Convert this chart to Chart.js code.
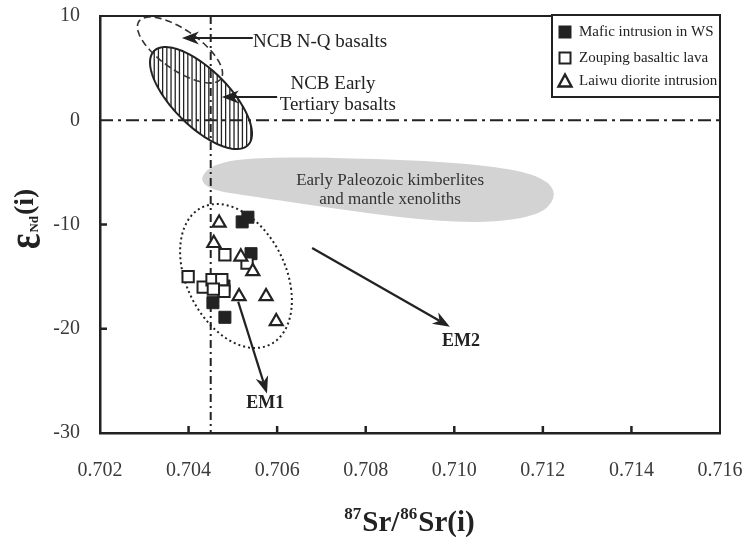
<!DOCTYPE html>
<html>
<head>
<meta charset="utf-8">
<script src="https://cdn.jsdelivr.net/npm/chart.js@4.4.0/dist/chart.umd.min.js"></script>
<style>
    html, body { margin: 0; padding: 0; background: #fff; }
    #wrap { width: 744px; height: 537px; }
</style>
</head>
<body>
<div id="wrap"><canvas id="srNdChart" width="744" height="537"></canvas></div>
<script>
// Sr-Nd isotope plot
const xTicks = [0.702, 0.704, 0.706, 0.708, 0.710, 0.712, 0.714, 0.716];
const yTicks = [10, 0, -10, -20, -30];

// Mafic intrusion in WS
const maficX = [0.70521, 0.70534, 0.70541, 0.70462, 0.70480, 0.70455, 0.70482];
const maficY = [-9.75, -9.3, -12.8, -15.3, -15.9, -17.5, -18.9];
// Zouping basaltic lava
const zoupingX = [0.70399, 0.70433, 0.70453, 0.70475, 0.70480, 0.70482, 0.70532, 0.70456];
const zoupingY = [-15.0, -16.0, -15.3, -15.3, -16.4, -12.9, -13.7, -16.2];
// Laiwu diorite intrusion
const laiwuX = [0.70469, 0.70457, 0.70518, 0.70545, 0.70514, 0.70575, 0.70598];
const laiwuY = [-9.85, -11.8, -13.1, -14.5, -16.9, -16.9, -19.3];

// reference lines
const refSr = 0.7045;
const refNd = 0;

// fields (ellipses as centre + two conjugate half axes, data units)
const nqCenter = [0.703806, 6.74];
const nqAxisU = [0.000925, -2.75];
const nqAxisV = [-0.000259, -1.57];
const tertCenter = [0.704281, 2.13];
const tertAxisU = [0.001061, -4.51];
const tertAxisV = [-0.000447, -1.90];
const sampleCenter = [0.705071, -14.94];
const sampleAxisU = [0.001242, -1.15];
const sampleAxisV = [0.000226, -6.81];

// kimberlite / xenolith field outline
const kimberliteX = [0.704235, 0.704597, 0.705613, 0.707645, 0.709903, 0.711484, 0.712161,
                     0.712297, 0.711935, 0.710806, 0.709226, 0.707193, 0.705387, 0.704484];
const kimberliteY = [-5.54, -4.10, -3.52, -3.62, -4.00, -4.77, -5.92,
                     -7.46, -9.09, -9.86, -9.57, -8.42, -7.27, -6.69];

// arrows [x0, y0, x1, y1]
const arrowNQ = [0.70545, 7.89, 0.70385, 7.89];
const arrowTert = [0.70600, 2.23, 0.70475, 2.23];
const arrowEM1 = [0.70512, -17.4, 0.70577, -26.2];
const arrowEM2 = [0.70679, -12.25, 0.70990, -19.8];

// annotation texts [text, x, y]
const notes = [
    ['NCB N-Q basalts', 0.705455, 7.51, 'left', '19px'],
    ['NCB Early', 0.70726, 3.48, 'center', '19px'],
    ['Tertiary basalts', 0.70737, 1.46, 'center', '19px'],
    ['Early Paleozoic kimberlites', 0.70855, -5.83, 'center', '17px'],
    ['and mantle xenoliths', 0.70855, -7.65, 'center', '17px'],
    ['EM1', 0.70573, -27.2, 'center', 'bold 18px'],
    ['EM2', 0.71015, -21.2, 'center', 'bold 18px']
];

const seriesNames = ['Mafic intrusion in WS', 'Zouping basaltic lava', 'Laiwu diorite intrusion'];

const SERIF = '"Liberation Serif", "Times New Roman", serif';
const INK = '#222';

function toPoints(xs, ys) {
    return xs.map((v, i) => ({ x: v, y: ys[i] }));
}

function ellipsePath(ctx, xs, ys, c, u, v) {
    const cx = xs.getPixelForValue(c[0]), cy = ys.getPixelForValue(c[1]);
    const ux = xs.getPixelForValue(c[0] + u[0]) - cx, uy = ys.getPixelForValue(c[1] + u[1]) - cy;
    const vx = xs.getPixelForValue(c[0] + v[0]) - cx, vy = ys.getPixelForValue(c[1] + v[1]) - cy;
    ctx.beginPath();
    for (let i = 0; i <= 120; i++) {
        const t = i / 120 * Math.PI * 2;
        const px = cx + ux * Math.cos(t) + vx * Math.sin(t);
        const py = cy + uy * Math.cos(t) + vy * Math.sin(t);
        if (i === 0) ctx.moveTo(px, py); else ctx.lineTo(px, py);
    }
    ctx.closePath();
    return { left: cx - Math.hypot(ux, vx), right: cx + Math.hypot(ux, vx),
             top: cy - Math.hypot(uy, vy), bottom: cy + Math.hypot(uy, vy) };
}

function drawArrow(ctx, xs, ys, a) {
    const x0 = xs.getPixelForValue(a[0]), y0 = ys.getPixelForValue(a[1]);
    const x1 = xs.getPixelForValue(a[2]), y1 = ys.getPixelForValue(a[3]);
    const ang = Math.atan2(y1 - y0, x1 - x0);
    const c = Math.cos(ang), s = Math.sin(ang);
    const L = 17, W = 6.5, notch = 12;
    ctx.setLineDash([]);
    ctx.lineWidth = 2.2;
    ctx.strokeStyle = INK;
    ctx.beginPath();
    ctx.moveTo(x0, y0);
    ctx.lineTo(x1 - c * notch, y1 - s * notch);
    ctx.stroke();
    ctx.fillStyle = INK;
    ctx.beginPath();
    ctx.moveTo(x1, y1);
    ctx.lineTo(x1 - c * L - s * W, y1 - s * L + c * W);
    ctx.lineTo(x1 - c * notch, y1 - s * notch);
    ctx.lineTo(x1 - c * L + s * W, y1 - s * L - c * W);
    ctx.closePath();
    ctx.fill();
}

const fieldsPlugin = {
    id: 'fields',
    beforeDatasetsDraw(chart) {
        const { ctx, chartArea: a, scales: { x, y } } = chart;
        ctx.save();
        ctx.beginPath();
        ctx.rect(a.left, a.top, a.right - a.left, a.bottom - a.top);
        ctx.clip();

        // kimberlite field: smooth closed curve through outline points
        const pts = kimberliteX.map((v, i) => [x.getPixelForValue(v), y.getPixelForValue(kimberliteY[i])]);
        const n = pts.length;
        const mid = (p, q) => [(p[0] + q[0]) / 2, (p[1] + q[1]) / 2];
        ctx.beginPath();
        let m = mid(pts[n - 1], pts[0]);
        ctx.moveTo(m[0], m[1]);
        for (let i = 0; i < n; i++) {
            const q = mid(pts[i], pts[(i + 1) % n]);
            ctx.quadraticCurveTo(pts[i][0], pts[i][1], q[0], q[1]);
        }
        ctx.closePath();
        ctx.fillStyle = '#d3d3d3';
        ctx.fill();

        // hatched field
        const box = ellipsePath(ctx, x, y, tertCenter, tertAxisU, tertAxisV);
        ctx.save();
        ctx.clip();
        ctx.strokeStyle = INK;
        ctx.lineWidth = 1.3;
        ctx.beginPath();
        for (let hx = box.left; hx <= box.right; hx += 4.2) {
            ctx.moveTo(hx, box.top);
            ctx.lineTo(hx, box.bottom);
        }
        ctx.stroke();
        ctx.restore();
        ellipsePath(ctx, x, y, tertCenter, tertAxisU, tertAxisV);
        ctx.lineWidth = 2;
        ctx.strokeStyle = INK;
        ctx.stroke();

        // dashed field
        ellipsePath(ctx, x, y, nqCenter, nqAxisU, nqAxisV);
        ctx.setLineDash([7, 4]);
        ctx.lineWidth = 1.6;
        ctx.strokeStyle = '#333';
        ctx.stroke();

        // reference lines
        ctx.strokeStyle = INK;
        ctx.lineWidth = 2;
        ctx.setLineDash([13, 5, 3, 5]);
        ctx.beginPath();
        ctx.moveTo(a.left, y.getPixelForValue(refNd));
        ctx.lineTo(a.right, y.getPixelForValue(refNd));
        ctx.stroke();
        ctx.setLineDash([8, 4, 2, 4]);
        ctx.beginPath();
        ctx.moveTo(x.getPixelForValue(refSr), a.top);
        ctx.lineTo(x.getPixelForValue(refSr), a.bottom);
        ctx.stroke();

        // dotted sample field
        ellipsePath(ctx, x, y, sampleCenter, sampleAxisU, sampleAxisV);
        ctx.setLineDash([2, 3]);
        ctx.lineWidth = 2;
        ctx.stroke();

        [arrowNQ, arrowTert, arrowEM1, arrowEM2].forEach(ar => drawArrow(ctx, x, y, ar));

        ctx.fillStyle = INK;
        ctx.textBaseline = 'middle';
        notes.forEach(([t, nx, ny, align, size]) => {
            ctx.font = size + ' ' + SERIF;
            ctx.textAlign = align;
            ctx.fillStyle = t.includes('kimberlites') || t.includes('xenoliths') ? '#333' : INK;
            ctx.fillText(t, x.getPixelForValue(nx), y.getPixelForValue(ny));
        });
        ctx.restore();
    },
    afterDraw(chart) {
        const { ctx, chartArea: a, scales: { x, y } } = chart;
        ctx.save();
        // frame top / right
        ctx.strokeStyle = INK;
        ctx.lineWidth = 2;
        ctx.beginPath();
        ctx.moveTo(a.left, a.top);
        ctx.lineTo(a.right, a.top);
        ctx.lineTo(a.right, a.bottom);
        ctx.stroke();
        // inward ticks
        ctx.lineWidth = 2.5;
        ctx.beginPath();
        xTicks.slice(1, -1).forEach(v => {
            const px = x.getPixelForValue(v);
            ctx.moveTo(px, a.bottom);
            ctx.lineTo(px, a.bottom - 7);
        });
        [-10, -20].forEach(v => {
            const py = y.getPixelForValue(v);
            ctx.moveTo(a.left, py);
            ctx.lineTo(a.left + 7, py);
        });
        ctx.stroke();

        // legend
        const lw = 168, lh = 82;
        const lx = a.right - lw, ly = a.top - 1;
        ctx.fillStyle = '#fff';
        ctx.fillRect(lx, ly, lw, lh);
        ctx.lineWidth = 2;
        ctx.strokeRect(lx, ly, lw, lh);
        const rows = [ly + 17, ly + 43, ly + 66];
        const mx = lx + 13;
        ctx.fillStyle = INK;
        ctx.fillRect(mx - 6.5, rows[0] - 6.5, 13, 13);
        ctx.lineWidth = 2;
        ctx.strokeRect(mx - 5.5, rows[1] - 5.5, 11, 11);
        ctx.lineWidth = 2.4;
        ctx.beginPath();
        ctx.moveTo(mx, rows[2] - 6.5);
        ctx.lineTo(mx + 6.5, rows[2] + 5.5);
        ctx.lineTo(mx - 6.5, rows[2] + 5.5);
        ctx.closePath();
        ctx.stroke();
        ctx.font = '15px ' + SERIF;
        ctx.textAlign = 'left';
        ctx.textBaseline = 'middle';
        seriesNames.forEach((t, i) => ctx.fillText(t, lx + 27, rows[i]));

        // x axis title: 87Sr/86Sr(i)
        const big = 'bold 29px ' + SERIF, sup = 'bold 17px ' + SERIF;
        const parts = [['87', sup, -12], ['Sr/', big, 0], ['86', sup, -12], ['Sr(i)', big, 0]];
        let total = 0;
        parts.forEach(p => { ctx.font = p[1]; total += ctx.measureText(p[0]).width + 1; });
        let tx = (a.left + a.right) / 2 - total / 2;
        ctx.textBaseline = 'alphabetic';
        parts.forEach(p => {
            ctx.font = p[1];
            ctx.fillText(p[0], tx, 531 + p[2]);
            tx += ctx.measureText(p[0]).width + 1;
        });

        // y axis title: εNd(i)
        ctx.translate(40, 249);
        ctx.rotate(-Math.PI / 2);
        ctx.font = 'bold 36px ' + SERIF;
        ctx.save();
        ctx.scale(1, 1.35);
        ctx.fillText('ε', 0, 0);
        ctx.restore();
        let ty = ctx.measureText('ε').width + 1;
        ctx.font = 'bold 13px ' + SERIF;
        ctx.fillText('Nd', ty, -2);
        ty += ctx.measureText('Nd').width + 1;
        ctx.font = 'bold 28px ' + SERIF;
        ctx.fillText('(i)', ty, -7);
        ctx.restore();
    }
};

const chart = new Chart(document.getElementById('srNdChart').getContext('2d'), {
    type: 'scatter',
    data: {
        datasets: [
            {
                label: seriesNames[2],
                data: toPoints(laiwuX, laiwuY),
                pointStyle: 'triangle',
                radius: 7.5,
                backgroundColor: '#fff',
                borderColor: INK,
                borderWidth: 2.2,
                order: 0
            },
            {
                label: seriesNames[1],
                data: toPoints(zoupingX, zoupingY),
                pointStyle: 'rect',
                radius: 8,
                backgroundColor: '#fff',
                borderColor: INK,
                borderWidth: 2,
                order: 1
            },
            {
                label: seriesNames[0],
                data: toPoints(maficX, maficY),
                pointStyle: 'rect',
                radius: 8.5,
                backgroundColor: INK,
                borderColor: INK,
                borderWidth: 1,
                order: 2
            }
        ]
    },
    options: {
        responsive: false,
        animation: false,
        devicePixelRatio: 1,
        layout: { padding: { left: 0, top: 16, right: 24, bottom: 0 } },
        plugins: {
            legend: { display: false },
            tooltip: { enabled: false }
        },
        scales: {
            x: {
                type: 'linear',
                min: 0.702,
                max: 0.716,
                afterBuildTicks: s => { s.ticks = xTicks.map(v => ({ value: v })); },
                afterFit: s => { s.height = 104; s.paddingLeft = 0; s.paddingRight = 0; },
                grid: { display: false, drawTicks: false },
                border: { display: true, width: 2.5, color: INK },
                ticks: {
                    padding: 26,
                    color: '#3a3a3a',
                    font: { family: SERIF, size: 20 },
                    maxRotation: 0,
                    autoSkip: false,
                    callback: v => v.toFixed(3)
                }
            },
            y: {
                type: 'linear',
                min: -30,
                max: 10,
                afterBuildTicks: s => { s.ticks = yTicks.map(v => ({ value: v })); },
                afterFit: s => { s.width = 100; s.paddingTop = 0; s.paddingBottom = 0; },
                grid: { display: false, drawTicks: false },
                border: { display: true, width: 2.5, color: INK },
                ticks: {
                    padding: 20,
                    color: '#3a3a3a',
                    font: { family: SERIF, size: 20 },
                    callback: v => String(v)
                }
            }
        }
    },
    plugins: [fieldsPlugin]
});
</script>
</body>
</html>
